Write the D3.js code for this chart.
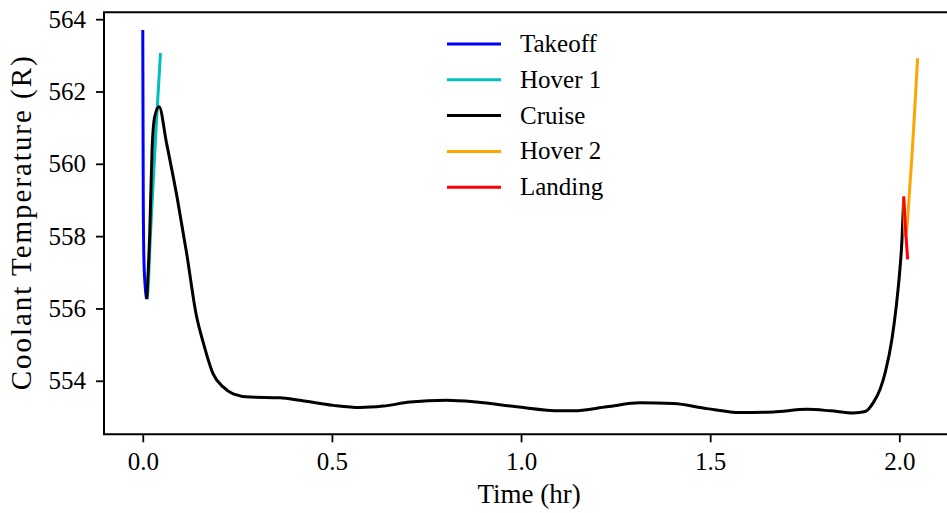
<!DOCTYPE html>
<html>
<head>
<meta charset="utf-8">
<script src="https://cdn.jsdelivr.net/npm/d3@7"></script>
<style>
  body { margin: 0; background: #fff; }
  text { font-family: "Liberation Serif", "DejaVu Serif", serif; fill: #000; }
</style>
</head>
<body>
<svg id="chart" width="947" height="513"></svg>
<script>
// time (hr) and coolant temperature (R) for each flight phase
var takeoffTime = [0.0, 0.0013, 0.003, 0.006, 0.0098];
var takeoffTemp = [563.70, 559.01, 557.36, 556.67, 556.26];

var hover1Time = [0.0106, 0.014, 0.0185, 0.0265, 0.0357, 0.0468];
var hover1Temp = [556.26, 556.53, 557.64, 559.29, 561.08, 563.06];

var cruiseTime = [0.0106, 0.0185, 0.0246, 0.0317, 0.0431, 0.0627, 0.0918, 0.1156, 0.142, 0.1595,
    0.186, 0.2124, 0.2389, 0.283, 0.3624, 0.4153, 0.5034, 0.5741, 0.6357, 0.7063,
    0.8034, 0.8828, 0.9886, 1.1032, 1.1384, 1.2267, 1.3148, 1.4029, 1.4913, 1.5794,
    1.6675, 1.7558, 1.8175, 1.879, 1.91, 1.932, 1.9497, 1.963, 1.9807, 1.992,
    2.0008, 2.0071, 2.0114];
var cruiseTemp = [556.26, 558.1, 560.39, 561.31, 561.58, 560.58, 559.01, 557.55, 555.79, 555.07,
    554.19, 553.83, 553.64, 553.55, 553.53, 553.46, 553.32, 553.26, 553.30, 553.41,
    553.46, 553.41, 553.28, 553.17, 553.17, 553.28, 553.39, 553.37, 553.23, 553.12,
    553.14, 553.21, 553.17, 553.11, 553.15, 553.41, 553.78, 554.24, 555.16, 556.07,
    556.99, 557.91, 559.01];

var hover2Time = [2.0114, 2.0159, 2.0291, 2.0484];
var hover2Temp = [559.01, 557.99, 559.56, 562.92];

var landingTime = [2.0114, 2.0165, 2.022];
var landingTemp = [559.10, 558.2, 557.36];

var phaseNames = ["Takeoff", "Hover 1", "Cruise", "Hover 2", "Landing"];
var phaseColors = ["#0000ff", "#00bfbf", "#000000", "#ffa500", "#ff0000"];

var xTicks = [0.0, 0.5, 1.0, 1.5, 2.0];
var yTicks = [554, 556, 558, 560, 562, 564];

var series = [
    { name: phaseNames[0], t: takeoffTime, v: takeoffTemp },
    { name: phaseNames[1], t: hover1Time, v: hover1Temp },
    { name: phaseNames[2], t: cruiseTime, v: cruiseTemp },
    { name: phaseNames[3], t: hover2Time, v: hover2Temp },
    { name: phaseNames[4], t: landingTime, v: landingTemp }
];

var svg = d3.select("#chart");
// plot box (right spine falls outside the picture)
var boxL = 104, boxT = 12.3, boxB = 434.3, boxR = 957;

var x = d3.scaleLinear().domain([-0.1025, 2.1525]).range([boxL, boxR]);
var y = d3.scaleLinear().domain([552.52, 564.19]).range([boxB, boxT]);

svg.append("rect").attr("width", 947).attr("height", 513).attr("fill", "#fff");

// lines
var line = d3.line()
    .x(function (d) { return x(d[0]); })
    .y(function (d) { return y(d[1]); })
    .curve(d3.curveMonotoneX);

svg.selectAll("path.phase")
    .data(series)
    .enter().append("path")
    .attr("class", "phase")
    .attr("d", function (s) { return line(s.t.map(function (t, i) { return [t, s.v[i]]; })); })
    .style("fill", "none")
    .style("stroke", function (s, i) { return phaseColors[i]; })
    .style("stroke-width", 3)
    .style("stroke-linejoin", "round");

// axes
var xAxis = svg.append("g")
    .attr("transform", "translate(0," + boxB + ")")
    .call(d3.axisBottom(x).tickValues(xTicks).tickFormat(d3.format(".1f")).tickSizeOuter(0).tickSize(8).tickPadding(10));
var yAxis = svg.append("g")
    .attr("transform", "translate(" + boxL + ",0)")
    .call(d3.axisLeft(y).tickValues(yTicks).tickFormat(d3.format("d")).tickSizeOuter(0).tickSize(8).tickPadding(10));

[xAxis, yAxis].forEach(function (g) {
    g.select(".domain").remove();
    g.selectAll("line").style("stroke", "#000").style("stroke-width", 1.8);
    g.selectAll("text").style("font-size", "25px").style("font-family", '"Liberation Serif", serif');
});

// spines
svg.append("path")
    .attr("d", "M" + boxR + "," + boxT + "H" + boxL + "V" + boxB + "H" + boxR)
    .style("fill", "none")
    .style("stroke", "#000")
    .style("stroke-width", 2);

svg.append("text")
    .attr("x", x(1.0) + 8)
    .attr("y", 503)
    .attr("text-anchor", "middle")
    .style("font-size", "27px")
    .text("Time (hr)");

svg.append("text")
    .attr("transform", "translate(31," + ((boxT + boxB) / 2) + ") rotate(-90)")
    .attr("text-anchor", "middle")
    .attr("textLength", 334)
    .attr("lengthAdjust", "spacing")
    .style("font-size", "29px")
    .text("Coolant Temperature (R)");

// legend
var legend = svg.append("g").attr("transform", "translate(447,44)");
var rows = legend.selectAll("g")
    .data(phaseNames)
    .enter().append("g")
    .attr("transform", function (d, i) { return "translate(0," + i * 35.8 + ")"; });
rows.append("line")
    .attr("x1", 0).attr("x2", 54)
    .style("stroke", function (d, i) { return phaseColors[i]; })
    .style("stroke-width", 3);
rows.append("text")
    .attr("x", 73)
    .attr("y", 8)
    .style("font-size", "25px")
    .text(function (d) { return d; });
</script>
</body>
</html>
